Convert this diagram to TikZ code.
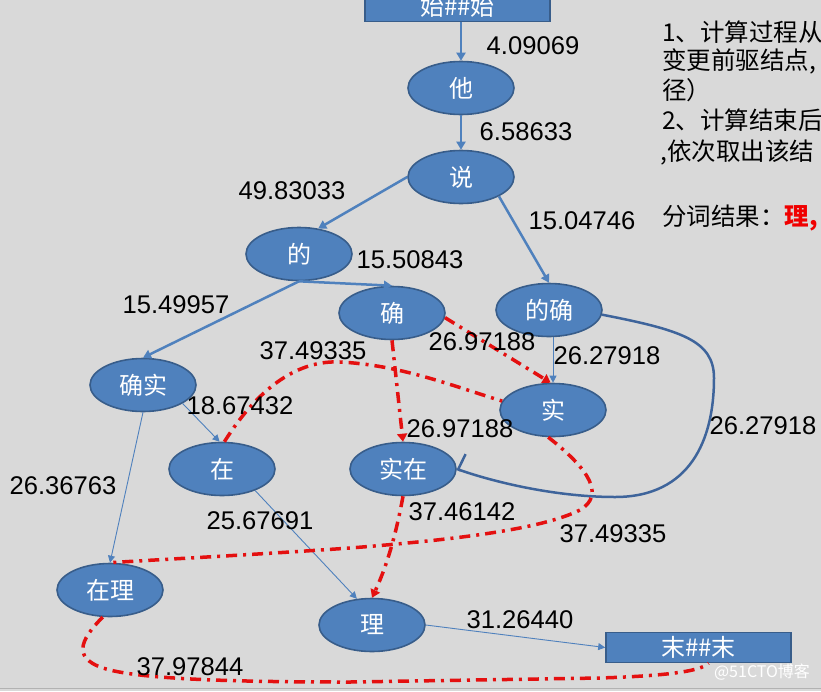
\documentclass[tikz,border=0pt]{standalone}
\usepackage{fontspec}
\setmainfont{Liberation Sans}
\newfontfamily\cjk{Noto Sans CJK SC}
\usetikzlibrary{shapes.geometric,arrows.meta}
\definecolor{bg}{RGB}{217,217,217}
\definecolor{nfill}{RGB}{79,129,189}
\definecolor{nborder}{RGB}{56,93,138}
\definecolor{eblue}{RGB}{79,129,189}
\definecolor{cblue}{RGB}{62,100,155}
\definecolor{pred}{RGB}{228,16,16}
\definecolor{tred}{RGB}{240,0,0}
\tikzset{
  wnode/.style={ellipse, draw=nborder, line width=1.6pt, fill=nfill, minimum width=106pt, minimum height=53pt, inner sep=0pt, text=white, font=\cjk\fontsize{24}{24}\selectfont},
  rnode/.style={rectangle, draw=nborder, line width=1.6pt, fill=nfill, minimum width=185pt, minimum height=30pt, inner sep=0pt, text=white, font=\cjk\fontsize{24}{24}\selectfont},
  wlabel/.style={inner sep=0pt, font=\fontsize{25.6}{26}\selectfont, text=black},
  bedge/.style={draw=eblue, line width=2.5pt, -{Triangle[length=8pt,width=9pt]}},
  tedge/.style={draw=eblue, line width=0.9pt, -{Triangle[length=7pt,width=7pt]}},
  cedge/.style={draw=cblue, line width=2.5pt, -{Straight Barb[harpoon,swap,length=2pt,width=34pt]}},
  redge/.style={draw=pred, line width=3.5pt, dash pattern=on 11pt off 6pt on 3pt off 6pt},
  rarrow/.style={-{Triangle[length=8pt,width=10pt]}},
  note/.style={anchor=west, inner sep=0pt, font=\cjk\fontsize{24.5}{25}\selectfont}
}
\begin{document}
\begin{tikzpicture}[x=1pt,y=-1pt]
\useasboundingbox (0,0) rectangle (821,691);
\fill[bg] (0,0) rectangle (821,691);
\clip (0,0) rectangle (821,691);
\draw[gray!60, line width=1pt] (0,688.5) -- (821,688.5);

% nodes
\node[rnode] (s) at (457.5,6.5) {始\#\#始};
\node[wnode] (ta) at (461,88) {他};
\node[wnode] (shuo) at (461,177) {说};
\node[wnode] (de) at (299,254) {的};
\node[wnode] (que) at (392,313) {确};
\node[wnode] (dique) at (549,310) {的确};
\node[wnode] (queshi) at (143,385) {确实};
\node[wnode] (shi) at (553,410) {实};
\node[wnode] (zai) at (222,469) {在};
\node[wnode] (shizai) at (403,469) {实在};
\node[wnode] (zaili) at (110,590) {在理};
\node[wnode] (li) at (372,625) {理};
\node[rnode] (e) at (698.5,647.5) {末\#\#末};

% blue edges
\draw[bedge] (ta.north |- s.south) -- (ta.north);
\draw[bedge] (ta) -- (shuo);
\draw[bedge] (shuo.west) -- (de.53);
\draw[bedge] (shuo.-27) -- (dique.north);
\draw[bedge] (de.south) -- (que.north);
\draw[bedge] (de.south) -- (queshi.north);
\draw[tedge] (queshi.-25) -- (zai.95);
\draw[tedge] (queshi.south) -- (zaili.north);
\draw[tedge] (zai.-33) -- (li.120);
\draw[tedge] (shi.north |- dique.south) -- (shi.north);
\draw[tedge] (li.east) -- (e.west);
\draw[cedge] (dique.-5) .. controls (680,330) and (714,340) .. (714,378)
  .. controls (714,440) and (690,497) .. (615,497)
  .. controls (560,497) and (500,484) .. (shizai.east);

% red path edges
\draw[redge, rarrow] (que.-5) -- (shi.95);
\draw[redge, rarrow] (que.south) -- (shizai.north);
\draw[redge] (zai.85) .. controls (260,385) and (300,360) .. (340,362)
  .. controls (400,365) and (450,385) .. (shi.170);
\draw[redge] (shi.-100) .. controls (590,470) and (605,495) .. (580,510)
  .. controls (540,530) and (450,540) .. (350,548)
  .. controls (250,555) and (150,560) .. (zaili.north);
\draw[redge, rarrow] (shizai.south) .. controls (395,540) and (385,570) .. (li.north);
\draw[redge] (zaili.-105) .. controls (80,640) and (70,660) .. (110,670)
  .. controls (150,680) and (250,682) .. (350,682)
  -- (600,678) .. controls (660,676) and (700,672) .. ([xshift=10pt]e.south);

% weights
\node[wlabel] (w1) at (533,46) {4.09069};
\node[wlabel] (w2) at (526,132) {6.58633};
\node[wlabel] (w3) at (292,191) {49.83033};
\node[wlabel] (w4) at (582,221) {15.04746};
\node[wlabel] (w5) at (410,260) {15.50843};
\node[wlabel] (w6) at (176,305) {15.49957};
\node[wlabel] (w7) at (313,351) {37.49335};
\node[wlabel] (w8) at (482,342) {26.97188};
\node[wlabel] (w9) at (607,356) {26.27918};
\node[wlabel] (w10) at (240,406) {18.67432};
\node[wlabel] (w11) at (460,429) {26.97188};
\node[wlabel] (w12) at (763,426) {26.27918};
\node[wlabel] (w13) at (63,486) {26.36763};
\node[wlabel] (w14) at (260,521) {25.67691};
\node[wlabel] (w15) at (462,512) {37.46142};
\node[wlabel] (w16) at (613,534) {37.49335};
\node[wlabel] (w17) at (520,620) {31.26440};
\node[wlabel] (w18) at (190,667) {37.97844};

% notes
\node[note] (t1) at (662,32) {1、计算过程从};
\node[note] (t2) at (662,61) {变更前驱结点,};
\node[note] (t3) at (662,90) {径）};
\node[note] (t4) at (662,120) {2、计算结束后};
\node[note] (t5) at (660,152) {,依次取出该结};
\node[note] (t6) at (662,218) {分词结果：{\color{tred}\bfseries 理,}};

\node[inner sep=0pt, text=white, font=\cjk\fontsize{16}{16}\selectfont] (wm) at (762,672) {@51CTO博客};
\end{tikzpicture}
\end{document}
